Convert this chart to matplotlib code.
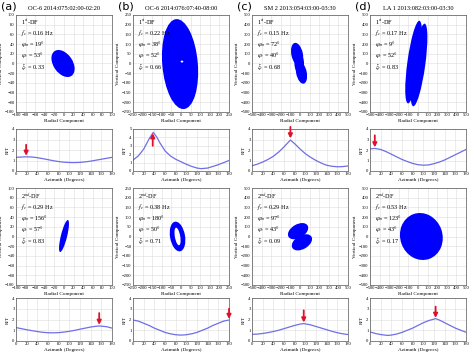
import matplotlib
matplotlib.use("Agg")
import matplotlib.pyplot as plt
from matplotlib.patches import Ellipse

plt.rcParams['font.family'] = ['Liberation Serif', 'DejaVu Serif']
plt.rcParams['mathtext.fontset'] = 'stix'

# ---- data ----
letters = ['(a)', '(b)', '(c)', '(d)']
titles = ['OC-6 2014:075:02:00-02:20', 'OC-6 2014:076:07:40-08:00',
          'SM 2 2013:054:03:00-03:30', 'LA 1 2013:082:03:00-03:30']
pm_lim = [100, 250, 500, 500]
pm_step = [20, 50, 100, 100]

# annotation values, 1st-DF and 2nd-DF
fc_1 = [0.16, 0.22, 0.15, 0.17]
phim_1 = [19, 38, 72, 9]
phiv_1 = [53, 52, 40, 52]
xi_1 = [0.33, 0.66, 0.68, 0.83]
fc_2 = [0.29, 0.38, 0.29, 0.53]
phim_2 = [156, 180, 97, 123]
phiv_2 = [57, 50, 43, 43]
xi_2 = [0.83, 0.71, 0.09, 0.17]

# particle-motion blobs: (x, y, width, height, angle, colour)
blobs_1 = [
    [(-2, 0, 62, 40, -55, 'b')],
    [(-5, -3, 465, 185, 95, 'b'), (5, 10, 14, 10, 0, 'w')],
    [(-30, 95, 120, 240, 12, 'b'), (15, -95, 110, 230, 12, 'b'), (-8, 0, 100, 200, 0, 'b')],
    [(-45, 15, 860, 130, 82, 'b'), (10, -15, 860, 130, 82, 'b')],
]
blobs_2 = [
    [(0, 1, 68, 13, 76, 'b')],
    [(-18, 0, 155, 78, 100, 'b'), (-18, 0, 92, 28, 100, 'w')],
    [(-20, 55, 230, 140, 30, 'b'), (20, -60, 230, 140, 30, 'b')],
    [(35, 0, 440, 490, 20, 'b')],
]

# R/T curves
az_a1 = [0, 10, 19, 30, 40, 50, 60, 70, 80, 90, 100, 109, 120, 130, 140, 150, 160, 170, 180]
rt_a1 = [1.30, 1.33, 1.35, 1.33, 1.27, 1.18, 1.08, 0.98, 0.90, 0.84, 0.81, 0.80, 0.82, 0.87, 0.94, 1.03, 1.12, 1.21, 1.30]
az_b1 = [0, 10, 20, 30, 38, 45, 50, 60, 70, 80, 90, 100, 110, 120, 128, 140, 150, 160, 170, 180]
rt_b1 = [1.3, 1.8, 2.6, 3.8, 4.6, 4.0, 3.4, 2.4, 1.8, 1.4, 1.1, 0.8, 0.55, 0.35, 0.28, 0.35, 0.55, 0.75, 1.0, 1.25]
az_c1 = [0, 10, 20, 30, 40, 50, 60, 72, 80, 90, 100, 110, 120, 130, 140, 150, 160, 170, 180]
rt_c1 = [0.5, 0.65, 0.85, 1.1, 1.4, 1.8, 2.3, 2.95, 2.6, 2.1, 1.65, 1.3, 1.0, 0.75, 0.55, 0.45, 0.4, 0.42, 0.48]
az_d1 = [0, 9, 20, 30, 40, 50, 60, 70, 80, 90, 100, 110, 120, 130, 140, 150, 160, 170, 180]
rt_d1 = [2.1, 2.15, 2.05, 1.85, 1.6, 1.35, 1.1, 0.9, 0.72, 0.6, 0.55, 0.58, 0.7, 0.85, 1.05, 1.3, 1.55, 1.8, 2.05]
az_a2 = [0, 10, 20, 30, 40, 50, 60, 70, 80, 90, 100, 110, 120, 130, 140, 150, 156, 170, 180]
rt_a2 = [1.25, 1.15, 1.05, 0.96, 0.88, 0.81, 0.77, 0.76, 0.78, 0.83, 0.9, 0.99, 1.1, 1.2, 1.3, 1.37, 1.4, 1.33, 1.2]
az_b2 = [0, 10, 20, 30, 40, 50, 60, 70, 80, 90, 100, 110, 120, 130, 140, 150, 160, 170, 180]
rt_b2 = [1.95, 1.85, 1.65, 1.45, 1.2, 1.0, 0.8, 0.67, 0.58, 0.55, 0.58, 0.67, 0.8, 1.0, 1.2, 1.45, 1.65, 1.85, 1.95]
az_c2 = [0, 10, 20, 30, 40, 50, 60, 70, 80, 90, 97, 110, 120, 130, 140, 150, 160, 170, 180]
rt_c2 = [0.62, 0.64, 0.7, 0.78, 0.88, 1.0, 1.15, 1.3, 1.45, 1.57, 1.62, 1.5, 1.35, 1.2, 1.05, 0.9, 0.77, 0.67, 0.6]
az_d2 = [0, 10, 20, 33, 40, 50, 60, 70, 80, 90, 100, 110, 123, 130, 140, 150, 160, 170, 180]
rt_d2 = [0.85, 0.7, 0.6, 0.52, 0.55, 0.65, 0.8, 1.0, 1.2, 1.45, 1.7, 1.9, 2.08, 1.95, 1.7, 1.45, 1.2, 1.0, 0.82]

curves_1 = [(az_a1, rt_a1), (az_b1, rt_b1), (az_c1, rt_c1), (az_d1, rt_d1)]
curves_2 = [(az_a2, rt_a2), (az_b2, rt_b2), (az_c2, rt_c2), (az_d2, rt_d2)]
rt_top_1 = [4, 5, 4, 4]
rt_top_2 = [4, 4, 4, 4]

# arrows: azimuth, tail, head
arrow_1 = [(19, 2.5, 1.45), (37, 3.0, 4.5), (72, 4.2, 3.1), (9, 3.4, 2.25)]
arrow_2 = [(156, 2.6, 1.5), (180, 3.0, 2.05), (97, 2.85, 1.72), (123, 3.2, 2.15)]

# ---- layout ----
W, H = 474, 352
col_x = [16, 133, 252, 370]
col_w = 96
pm_rows = [(15, 112), (188, 285)]
rt_rows = [(129, 171), (298, 341)]

blue = '#0000ff'
curve_col = '#6f6fe6'
red = '#e0102a'
fs_tick = 3.3
fs_lab = 3.8

fig = plt.figure(figsize=(W / 100, H / 100), dpi=100)


def ax_at(x0, y0, y1):
    return fig.add_axes([x0 / W, 1 - y1 / H, col_w / W, (y1 - y0) / H])


def style(ax):
    ax.grid(True, color='#dddddd', lw=0.4)
    ax.set_axisbelow(True)
    ax.tick_params(labelsize=fs_tick, length=0, pad=1)
    for s in ax.spines.values():
        s.set_linewidth(0.5)
        s.set_color('#555555')


for i in range(4):
    fig.text((col_x[i] - 15) / W, 1 - 6.5 / H, letters[i], fontsize=8,
             family='DejaVu Sans', va='center')
    fig.text((col_x[i] + col_w / 2) / W, 1 - 8 / H, titles[i], fontsize=4.6,
             ha='center', va='center')

    for r in range(2):
        blobs = [blobs_1, blobs_2][r][i]
        fc = [fc_1, fc_2][r][i]
        pm = [phim_1, phim_2][r][i]
        pv = [phiv_1, phiv_2][r][i]
        xi = [xi_1, xi_2][r][i]
        az, rt = [curves_1, curves_2][r][i]
        top = [rt_top_1, rt_top_2][r][i]
        a_az, a_tail, a_head = [arrow_1, arrow_2][r][i]

        # particle motion
        ax = ax_at(col_x[i], *pm_rows[r])
        lim = pm_lim[i]
        for (x, y, w, h, ang, c) in blobs:
            ax.add_patch(Ellipse((x, y), w, h, angle=ang,
                                 color=blue if c == 'b' else 'white', lw=0))
        ax.set_xlim(-lim, lim)
        ax.set_ylim(-lim, lim)
        ticks = list(range(-lim, lim + 1, pm_step[i]))
        ax.set_xticks(ticks)
        ax.set_yticks(ticks)
        style(ax)
        ax.set_xlabel('Radial Component', fontsize=fs_lab, labelpad=1.5)
        ax.set_ylabel('Vertical Component', fontsize=fs_lab, labelpad=1.5)
        order = '1$^{st}$-DF' if r == 0 else '2$^{nd}$-DF'
        txt = (order + '\n' + '$f_c$ = %.2f Hz\n' % fc +
               '$\\varphi_m$ = %d°\n' % pm + '$\\varphi_v$ = %d°\n' % pv +
               '$\\xi_c$ = %.2f' % xi)
        ax.text(0.05, 0.97, txt, transform=ax.transAxes, fontsize=4.4,
                va='top', ha='left', linespacing=1.15)

        # R/T curve
        ax2 = ax_at(col_x[i], *rt_rows[r])
        ax2.plot(az, rt, color=curve_col, lw=0.9)
        ax2.set_xlim(0, 180)
        ax2.set_ylim(0, top)
        ax2.set_xticks(range(0, 181, 20))
        ax2.set_yticks(range(0, top + 1))
        style(ax2)
        ax2.set_xlabel('Azimuth (Degrees)', fontsize=fs_lab, labelpad=1.5)
        ax2.set_ylabel('R/T', fontsize=fs_lab, labelpad=1.5)
        ax2.annotate('', xy=(a_az, a_head), xytext=(a_az, a_tail),
                     arrowprops=dict(arrowstyle='-|>', color=red, lw=1.3,
                                     mutation_scale=6, shrinkA=0, shrinkB=0),
                     annotation_clip=False)

fig.savefig('out.png', dpi=100)
